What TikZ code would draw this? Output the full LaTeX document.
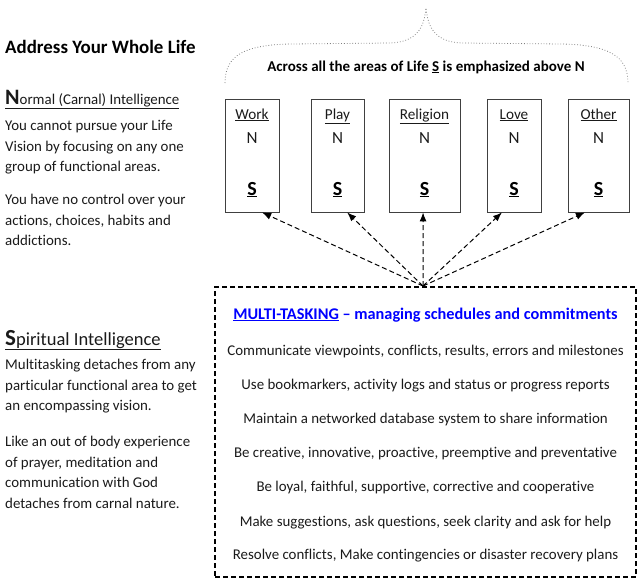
\documentclass[tikz,border=0pt]{standalone}
\usepackage{fontspec}
\setmainfont{Carlito}[Ligatures=NoCommon]
\usetikzlibrary{calc,arrows.meta}
\definecolor{txt}{HTML}{1A1A1A}
\definecolor{mtblue}{RGB}{0,0,255}
\tikzset{
  body/.style={anchor=base west,inner sep=0,text=txt,font=\fontsize{14.9}{17}\selectfont},
  boxline/.style={anchor=base,inner sep=0,text=txt,font=\fontsize{14.9}{17}\selectfont},
  area/.style={draw=black!75,line width=0.9pt,minimum height=113pt,inner sep=0},
  arealbl/.style={anchor=base,inner sep=0,text=txt,font=\fontsize{15.2}{17}\selectfont},
  arean/.style={anchor=base,inner sep=0,text=txt,font=\fontsize{17}{19}\selectfont},
  areas/.style={anchor=base,inner sep=0,text=black,font=\fontsize{20}{22}\selectfont\bfseries},
  link/.style={dash pattern=on 5pt off 3pt,line width=1pt,-{Latex[length=9pt,width=7pt]}},
}
\begin{document}
\begin{tikzpicture}[x=1pt,y=-1pt]
\useasboundingbox (0,0) rectangle (641,582);
% left column
\node[anchor=base west,inner sep=0,font=\fontsize{18.9}{21}\selectfont\bfseries] (title) at (5,53) {Address Your Whole Life};
\node[anchor=base west,inner sep=0,text=txt,font=\fontsize{14.9}{18}\selectfont] (nhead) at (5,104)
  {\underline{{\fontsize{22}{23}\selectfont\bfseries N}ormal (Carnal) Intelligence}};
\foreach \t/\y [count=\i] in {{You cannot pursue your Life}/130,{Vision by focusing on any one}/151,{group of functional areas.}/171,
  {You have no control over your}/204,{actions, choices, habits and}/225,{addictions.}/245}
  \node[body] (n\i) at (5,\y) {\t};
\node[anchor=base west,inner sep=0,text=txt,font=\fontsize{18.5}{20}\selectfont] (shead) at (5,345)
  {\underline{{\fontsize{23}{23}\selectfont\bfseries S}piritual Intelligence}};
\foreach \t/\y [count=\i] in {{Multitasking detaches from any}/369,{particular functional area to get}/390,{an encompassing vision.}/410,
  {Like an out of body experience}/446,{of prayer, meditation and}/467,{communication with God}/487,{detaches from carnal nature.}/508}
  \node[body] (s\i) at (5,\y) {\t};
% brace
\draw[dotted,black!50,line width=0.8pt] (225,83) .. controls (225,55) and (245,45) .. (290,44)
  -- (390,43) .. controls (415,42) and (424,30) .. (426,8)
  .. controls (428,30) and (437,42) .. (462,43) -- (562,44)
  .. controls (607,45) and (628,55) .. (628,83);
\node[anchor=base,inner sep=0,text=black,font=\fontsize{15}{17}\selectfont\bfseries] (across) at (426,71)
  {Across all the areas of Life \underline{S} is emphasized above N};
% area boxes
\node[area,minimum width=54pt] (work) at (252,155.5) {};
\node[area,minimum width=53pt] (play) at (337.5,155.5) {};
\node[area,minimum width=71pt] (rel) at (424.5,155.5) {};
\node[area,minimum width=54pt] (love) at (514,155.5) {};
\node[area,minimum width=61pt] (other) at (598.5,155.5) {};
\foreach \b/\l in {work/Work,play/Play,rel/Religion,love/Love,other/Other}{
  \node[arealbl] (\b l) at (\b.north |- 0,119) {\underline{\l}};
  \node[arean] (\b n) at (\b.north |- 0,143) {N};
  \node[areas] (\b s) at (\b.north |- 0,195) {\underline{S}};
}
% multitasking box
\node[draw=black,dash pattern=on 5pt off 3pt,line width=1.5pt,minimum width=421pt,minimum height=290pt,inner sep=0] (mt) at (425.5,432) {};
\node[anchor=base,inner sep=0,text=mtblue,font=\fontsize{16.3}{18}\selectfont\bfseries] (mttitle) at (425.5,319)
  {\underline{MULTI-TASKING} -- managing schedules and commitments};
\foreach \t/\y [count=\i] in {{Communicate viewpoints, conflicts, results, errors and milestones}/355,
  {Use bookmarkers, activity logs and status or progress reports}/389,
  {Maintain a networked database system to share information}/423,
  {Be creative, innovative, proactive, preemptive and preventative}/457,
  {Be loyal, faithful, supportive, corrective and cooperative}/491,
  {Make suggestions, ask questions, seek clarity and ask for help}/526,
  {Resolve conflicts, Make contingencies or disaster recovery plans}/559}
  \node[boxline] (m\i) at (425.5,\y) {\t};
% connectors
\coordinate (src) at (423,286);
\draw[link] (src) -- ($(work.south west)!0.685!(work.south east)$);
\draw[link] (src) -- ($(play.south west)!0.68!(play.south east)$);
\draw[link] (src) -- ($(rel.south west)!0.48!(rel.south east)$);
\draw[link] (src) -- ($(love.south west)!0.28!(love.south east)$);
\draw[link] (src) -- ($(other.south west)!0.28!(other.south east)$);
\end{tikzpicture}
\end{document}
